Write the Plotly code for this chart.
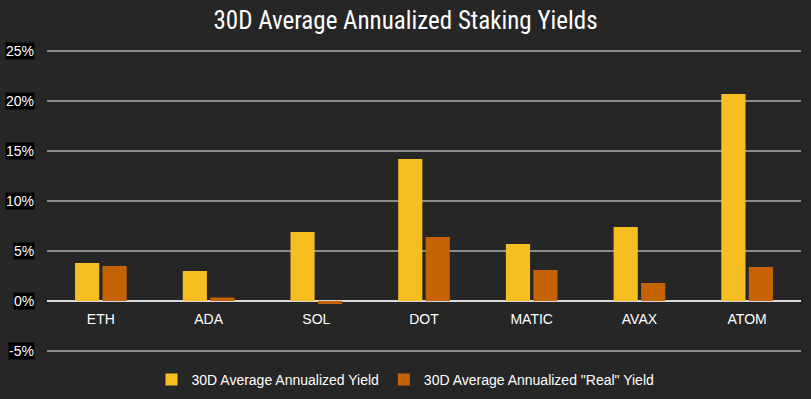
import plotly.graph_objects as go

categories = ["ETH", "ADA", "SOL", "DOT", "MATIC", "AVAX", "ATOM"]
yield_30d = [3.8, 3.0, 6.9, 14.2, 5.7, 7.4, 20.7]
real_yield_30d = [3.5, 0.35, -0.3, 6.4, 3.1, 1.8, 3.4]
tick_vals = [-5, 0, 5, 10, 15, 20, 25]
tick_text = ["-5%", "0%", "5%", "10%", "15%", "20%", "25%"]

fig = go.Figure()
fig.add_trace(go.Bar(x=categories, y=yield_30d, name="30D Average Annualized Yield",
                     marker=dict(color="#F7BE22", line=dict(width=0))))
fig.add_trace(go.Bar(x=categories, y=real_yield_30d, name='30D Average Annualized "Real" Yield',
                     marker=dict(color="#C56304", line=dict(width=0))))

ymin, ymax = -5.5, 25.5
fig.update_layout(
    width=811, height=399,
    paper_bgcolor="#262626", plot_bgcolor="#262626",
    margin=dict(l=47, r=10, t=46, b=43, autoexpand=False),
    barmode="group", bargap=0.49, bargroupgap=0.12,
    title=dict(text="30D Average Annualized Staking Yields", x=0.5, xanchor="center",
               y=1 - 20 / 399, yanchor="middle",
               font=dict(family="Liberation Sans Narrow, Roboto Condensed, Arial Narrow, sans-serif",
                         size=25, color="#FFFFFF")),
    font=dict(family="Liberation Sans, Arial, sans-serif", color="#FFFFFF", size=14),
    legend=dict(orientation="h", x=0.5, xanchor="center", xref="container",
                y=(399 - 380) / 399, yanchor="middle", yref="container",
                font=dict(size=14, color="#FFFFFF"), traceorder="normal",
                bgcolor="rgba(0,0,0,0)"),
    showlegend=True,
)
fig.update_xaxes(showgrid=False, showline=False, ticks="", anchor="free",
                 position=(0 - ymin) / (ymax - ymin), ticklabelstandoff=8,
                 tickfont=dict(size=14, color="#FFFFFF"))
fig.update_yaxes(range=[ymin, ymax], tickvals=tick_vals, showticklabels=False,
                 showgrid=True, gridcolor="#8C8C8C", gridwidth=1.5,
                 zeroline=True, zerolinecolor="#D9D9D9", zerolinewidth=1.5, ticks="")

for v, t in zip(tick_vals, tick_text):
    fig.add_annotation(x=0, xref="paper", y=v, yref="y", text=t, showarrow=False,
                       xanchor="right", yanchor="middle", xshift=-12,
                       bgcolor="#000000", borderpad=0,
                       font=dict(size=14, color="#FFFFFF", family="Liberation Sans, Arial, sans-serif"))

fig.write_html("out.html", config={"displayModeBar": False},
               post_script="document.body.style.margin='0';document.body.style.overflow='hidden';")
